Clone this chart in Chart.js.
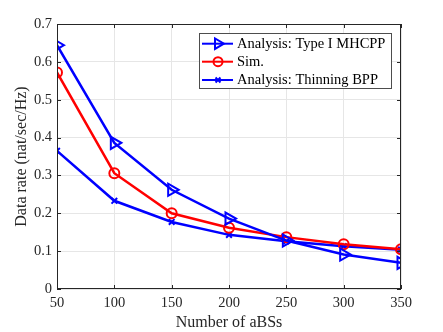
<!DOCTYPE html>
<html>
<head>
<meta charset="utf-8">
<script src="https://cdn.jsdelivr.net/npm/chart.js@4/dist/chart.umd.min.js"></script>
<style>
  html, body { margin: 0; padding: 0; background: #fff; }
  #wrap { width: 443px; height: 332px; }
</style>
</head>
<body>
<div id="wrap"><canvas id="chart" width="443" height="332"></canvas></div>
<script>
const numABSs = [50, 100, 150, 200, 250, 300, 350];
const typeIMhcpp = [0.644, 0.386, 0.262, 0.186, 0.128, 0.091, 0.069];
const simRate = [0.572, 0.306, 0.200, 0.162, 0.137, 0.118, 0.105];
const thinningBpp = [0.365, 0.233, 0.177, 0.143, 0.126, 0.113, 0.104];
const yTicks = [0, 0.1, 0.2, 0.3, 0.4, 0.5, 0.6, 0.7];

const FONT = "'Liberation Serif', 'Times New Roman', serif";
const AXIS = "#262626";

// box, inward ticks and legend in the MATLAB style
const matlabFrame = {
  id: "matlabFrame",
  afterDraw(chart) {
    const { ctx, chartArea: a, scales } = chart;
    ctx.save();
    ctx.strokeStyle = AXIS;
    ctx.lineWidth = 1;
    ctx.strokeRect(a.left + 0.5, a.top + 0.5, a.right - a.left - 1, a.bottom - a.top - 1);
    ctx.beginPath();
    scales.x.ticks.forEach((t) => {
      const x = Math.round(scales.x.getPixelForValue(t.value)) + 0.5;
      ctx.moveTo(x, a.bottom); ctx.lineTo(x, a.bottom - 4);
      ctx.moveTo(x, a.top); ctx.lineTo(x, a.top + 4);
    });
    scales.y.ticks.forEach((t) => {
      const y = Math.round(scales.y.getPixelForValue(t.value)) + 0.5;
      ctx.moveTo(a.left, y); ctx.lineTo(a.left + 4, y);
      ctx.moveTo(a.right, y); ctx.lineTo(a.right - 4, y);
    });
    ctx.stroke();

    // legend
    const bx = 199.5, by = 33.5, bw = 192, bh = 55;
    ctx.fillStyle = "#fff";
    ctx.fillRect(bx, by, bw, bh);
    ctx.strokeStyle = "#4d4d4d";
    ctx.strokeRect(bx, by, bw, bh);
    const rows = [43.7, 61.7, 80];
    chart.data.datasets.forEach((ds, i) => {
      const y = rows[i];
      ctx.strokeStyle = ds.borderColor;
      ctx.lineWidth = 2;
      ctx.beginPath();
      ctx.moveTo(202, y); ctx.lineTo(233, y);
      ctx.stroke();
      ctx.fillStyle = "rgba(0,0,0,0)";
      ctx.lineWidth = ds.pointBorderWidth;
      Chart.helpers.drawPoint(ctx, {
        pointStyle: ds.pointStyle,
        rotation: ds.pointRotation || 0,
        radius: ds.legendRadius,
        borderWidth: ds.pointBorderWidth,
      }, 218, y);
      ctx.fillStyle = "#000";
      ctx.font = `14.5px ${FONT}`;
      ctx.textBaseline = "middle";
      ctx.textAlign = "left";
      ctx.fillText(ds.label, 237, y + 0.5);
    });
    ctx.restore();
  },
};

new Chart(document.getElementById("chart"), {
  type: "line",
  data: {
    labels: numABSs,
    datasets: [
      {
        label: "Analysis: Type I MHCPP",
        data: typeIMhcpp,
        borderColor: "#0000ff",
        backgroundColor: "rgba(0,0,0,0)",
        borderWidth: 2.5,
        pointStyle: "triangle",
        pointRotation: 90,
        pointRadius: 7,
        legendRadius: 6,
        pointBorderWidth: 2,
        pointBorderColor: "#0000ff",
        pointBackgroundColor: "rgba(0,0,0,0)",
      },
      {
        label: "Sim.",
        data: simRate,
        borderColor: "#ff0000",
        backgroundColor: "rgba(0,0,0,0)",
        borderWidth: 2.5,
        pointStyle: "circle",
        pointRadius: 5,
        legendRadius: 4.5,
        pointBorderWidth: 2,
        pointBorderColor: "#ff0000",
        pointBackgroundColor: "rgba(0,0,0,0)",
      },
      {
        label: "Analysis: Thinning BPP",
        data: thinningBpp,
        borderColor: "#0000ff",
        backgroundColor: "rgba(0,0,0,0)",
        borderWidth: 2.5,
        pointStyle: "crossRot",
        pointRadius: 4,
        legendRadius: 3.5,
        pointBorderWidth: 2,
        pointBorderColor: "#0000ff",
        pointBackgroundColor: "rgba(0,0,0,0)",
      },
    ],
  },
  options: {
    responsive: false,
    animation: false,
    layout: { padding: { left: 0, top: 24, right: 42, bottom: 0 } },
    plugins: { legend: { display: false }, tooltip: { enabled: false } },
    elements: { line: { tension: 0 } },
    scales: {
      x: {
        type: "linear",
        min: 50,
        max: 350,
        afterFit: (s) => { s.height = 43; },
        afterBuildTicks: (s) => { s.ticks = numABSs.map((v) => ({ value: v })); },
        ticks: { color: AXIS, font: { family: FONT, size: 14.5 }, padding: 5, maxRotation: 0 },
        grid: { color: "#e6e6e6", drawTicks: false },
        border: { display: false },
        title: {
          display: true,
          text: "Number of aBSs",
          color: AXIS,
          font: { family: FONT, size: 16 },
          padding: { top: 0, bottom: 0 },
        },
      },
      y: {
        min: 0,
        max: 0.7,
        afterFit: (s) => { s.width = 57; },
        afterBuildTicks: (s) => { s.ticks = yTicks.map((v) => ({ value: v })); },
        ticks: {
          color: AXIS,
          font: { family: FONT, size: 14.5 },
          padding: 5,
          callback: (v) => String(Math.round(v * 10) / 10),
        },
        grid: { color: "#e6e6e6", drawTicks: false },
        border: { display: false },
        title: {
          display: true,
          text: "Data rate (nat/sec/Hz)",
          color: AXIS,
          font: { family: FONT, size: 16 },
          padding: { top: 12, bottom: 0 },
        },
      },
    },
  },
  plugins: [matlabFrame],
});
</script>
</body>
</html>
